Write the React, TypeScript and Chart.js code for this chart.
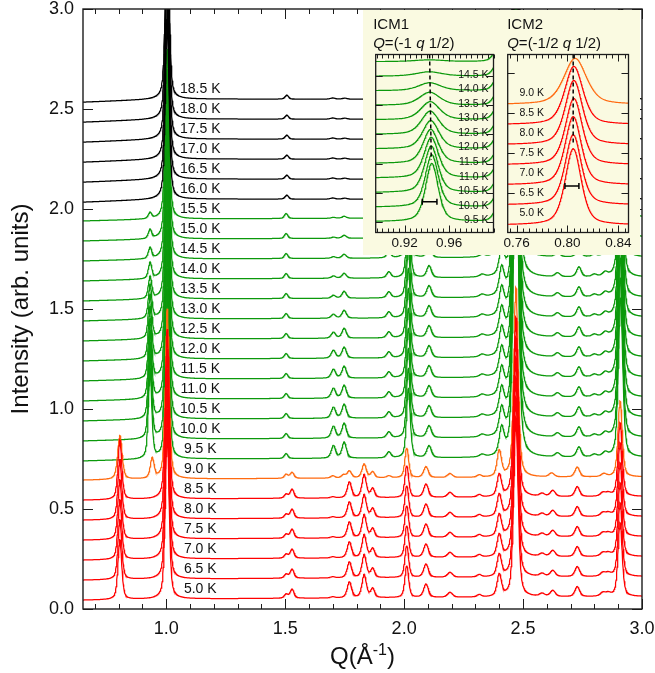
import React, { useEffect, useRef } from 'react';
import { Chart, registerables } from 'chart.js';

Chart.register(...registerables);

const FONT = "'Liberation Sans', Arial, Helvetica, sans-serif";
const AXIS = '#1c1c1c';
const TEXT = '#111111';
const INSET_BG = '#fafae1';

const COLORS: Record<string, string> = { CM: '#ff0000', MIX: '#ff6a10', ICM: '#0b990b', PM: '#000000' };
const ORDER: Record<string, number> = { PM: 0, CM: 1, MIX: 1, ICM: 2 };

// ---------------- main panel ----------------
const TEMPS = ['5.0 K', '6.5 K', '7.0 K', '7.5 K', '8.0 K', '8.5 K', '9.0 K', '9.5 K', '10.0 K', '10.5 K', '11.0 K', '11.5 K', '12.0 K', '12.5 K', '13.0 K', '13.5 K', '14.0 K', '14.5 K', '15.0 K', '15.5 K', '16.0 K', '16.5 K', '17.0 K', '17.5 K', '18.0 K', '18.5 K'];
const OFFSETS = [0.05, 0.15, 0.25, 0.35, 0.45, 0.55, 0.65, 0.75, 0.85, 0.95, 1.05, 1.15, 1.25, 1.35, 1.45, 1.55, 1.65, 1.75, 1.85, 1.95, 2.05, 2.15, 2.25, 2.35, 2.45, 2.55];
const PHASES = ['CM', 'CM', 'CM', 'CM', 'CM', 'CM', 'MIX', 'ICM', 'ICM', 'ICM', 'ICM', 'ICM', 'ICM', 'ICM', 'ICM', 'ICM', 'ICM', 'ICM', 'ICM', 'ICM', 'PM', 'PM', 'PM', 'PM', 'PM', 'PM'];

const Q_MIN = 0.65;
const Q_MAX = 3.0;
const Q_STEP = 0.0015;
const X_TICKS = [1.0, 1.5, 2.0, 2.5, 3.0];
const Y_TICKS = [0, 0.5, 1.0, 1.5, 2.0, 2.5, 3.0];
const LABEL_Q = 1.143;
const LABEL_DY = 0.047;

// commensurate phase (red, 5.0-8.5 K)
const CM_Q = [0.805, 1.004, 1.504, 1.529, 1.700, 1.770, 1.832, 1.868, 2.011, 2.092, 2.193, 2.316, 2.400, 2.470, 2.580, 2.625, 2.728, 2.835, 2.858, 2.908];
const CM_H = [0.30, 0.85, 0.02, 0.045, 0.006, 0.08, 0.115, 0.045, 0.16, 0.067, 0.025, 0.012, 0.11, 0.9, 0.015, 0.03, 0.05, 0.018, 0.015, 0.37];
const CM_W = [0.0095, 0.0095, 0.009, 0.01, 0.011, 0.011, 0.011, 0.01, 0.0095, 0.012, 0.013, 0.011, 0.011, 0.011, 0.013, 0.013, 0.012, 0.013, 0.013, 0.0105];

// mixed (orange, 9.0 K)
const MIX_Q = [0.805, 0.941, 1.004, 1.504, 1.529, 1.700, 1.745, 1.770, 1.832, 1.868, 1.936, 2.011, 2.092, 2.193, 2.316, 2.400, 2.470, 2.620, 2.728, 2.840, 2.908];
const MIX_H = [0.22, 0.10, 0.85, 0.02, 0.03, 0.012, 0.015, 0.035, 0.07, 0.03, 0.01, 0.15, 0.055, 0.02, 0.012, 0.13, 0.95, 0.02, 0.05, 0.015, 0.38];
const MIX_W = [0.011, 0.0095, 0.0095, 0.009, 0.01, 0.011, 0.011, 0.011, 0.011, 0.01, 0.011, 0.0095, 0.012, 0.013, 0.011, 0.011, 0.011, 0.013, 0.012, 0.013, 0.0105];

// incommensurate phase (green, 9.5-15.5 K), fixed peaks
const ICM_Q = [1.004, 1.504, 1.936, 2.018, 2.105, 2.328, 2.410, 2.470, 2.645, 2.735, 2.800, 2.845, 2.910];
const ICM_H = [0.85, 0.025, 0.03, 0.35, 0.06, 0.012, 0.13, 1.8, 0.02, 0.05, 0.012, 0.02, 0.8];
const ICM_W = [0.0095, 0.009, 0.011, 0.0095, 0.012, 0.013, 0.012, 0.012, 0.013, 0.012, 0.013, 0.013, 0.011];
// temperature dependent green peaks (9.5 ... 15.5 K)
const ICM1_Q = 0.932;
const ICM1_W = 0.0085;
const ICM1_H = [0.45, 0.42, 0.38, 0.34, 0.30, 0.26, 0.22, 0.17, 0.11, 0.08, 0.055, 0.045, 0.03];
const ICM_A_Q = 1.703;
const ICM_A_H = [0.063, 0.06, 0.055, 0.05, 0.045, 0.04, 0.03, 0.02, 0.015, 0.012, 0.008, 0.006, 0.005];
const ICM_B_Q = 1.748;
const ICM_B_H = [0.08, 0.075, 0.07, 0.065, 0.06, 0.055, 0.05, 0.04, 0.035, 0.025, 0.02, 0.015, 0.01];
const ICM_AB_W = 0.011;

// paramagnetic (black, 16.0-18.5 K)
const PM_Q = [1.004, 1.507, 1.700, 1.750, 2.018, 2.470, 2.910];
const PM_H = [0.9, 0.02, 0.006, 0.005, 0.3, 1.5, 0.6];
const PM_W = [0.0095, 0.009, 0.013, 0.013, 0.0095, 0.012, 0.011];

const BG_RISE: Record<string, number> = { CM: 0.006, MIX: 0.006, ICM: 0.01, PM: 0.016 };
const BG_SLOPE: Record<string, number> = { CM: 0.006, MIX: 0.005, ICM: 0.004, PM: -0.002 };

// ---------------- inset ICM1 ----------------
const ICM1_TEMPS = ['9.5 K', '10.0 K', '10.5 K', '11.0 K', '11.5 K', '12.0 K', '12.5 K', '13.0 K', '13.5 K', '14.0 K', '14.5 K', ''];
const ICM1_POS = [0.9445, 0.9445, 0.944, 0.944, 0.9435, 0.9435, 0.943, 0.943, 0.9425, 0.9425, 0.942, 0.942];
const ICM1_HGT = [4.0, 3.6, 3.2, 2.8, 2.35, 1.95, 1.6, 1.25, 0.9, 0.55, 0.3, 0.12];
const ICM1_WID = [0.0068, 0.007, 0.0073, 0.0077, 0.0082, 0.0088, 0.0095, 0.0102, 0.011, 0.012, 0.014, 0.016];
const ICM1_TAIL = [1.005, 1.2, 0.005];
const ICM1_X = [0.894, 1.0];
const ICM1_Y = [-0.74, 11.49];
const ICM1_XT = [0.92, 0.96];
const ICM1_YT = [0, 2, 4, 6, 8, 10];
const ICM1_LABEL_Q = 0.9955;
const ICM1_DASH = [[0.9425, 11.49], [0.944, 4.24]];
const ICM1_RES = [0.9359, 0.9491, 1.37];

// ---------------- inset ICM2 ----------------
const ICM2_TEMPS = ['5.0 K', '6.5 K', '7.0 K', '7.5 K', '8.0 K', '8.5 K', '9.0 K'];
const ICM2_POS = [0.8045, 0.8045, 0.8045, 0.805, 0.805, 0.805, 0.806];
const ICM2_HGT = [3.8, 3.5, 3.4, 3.3, 3.2, 2.9, 2.3];
const ICM2_WID = [0.0075, 0.0075, 0.0076, 0.0078, 0.008, 0.0085, 0.0105];
const ICM2_X = [0.753, 0.848];
const ICM2_Y = [-0.37, 8.49];
const ICM2_XT = [0.76, 0.80, 0.84];
const ICM2_YT = [1.58, 3.58, 5.58, 7.58];
const ICM2_LABEL_Q = 0.7622;
const ICM2_LABEL_DY = 0.58;
const ICM2_DASH = [[0.8045, 8.49], [0.8045, 4.03]];
const ICM2_RES = [0.798, 0.809, 1.94];

function pv(q: number, q0: number, h: number, w: number) {
  const u = (q - q0) / w;
  const u2 = u * u;
  return h * (0.5 / (1 + u2) + 0.5 * Math.exp(-0.6931 * u2));
}

function phasePeaks(i: number): number[][] {
  const ph = PHASES[i];
  if (ph === 'CM') return CM_Q.map((q, k) => [q, CM_H[k], CM_W[k]]);
  if (ph === 'MIX') return MIX_Q.map((q, k) => [q, MIX_H[k], MIX_W[k]]);
  if (ph === 'PM') return PM_Q.map((q, k) => [q, PM_H[k], PM_W[k]]);
  const j = PHASES.slice(0, i).filter((p) => p === 'ICM').length;
  const pk = ICM_Q.map((q, k) => [q, ICM_H[k], ICM_W[k]]);
  pk.push([ICM1_Q, ICM1_H[j], ICM1_W]);
  pk.push([ICM_A_Q, ICM_A_H[j], ICM_AB_W]);
  pk.push([ICM_B_Q, ICM_B_H[j], ICM_AB_W]);
  return pk;
}

function buildMainCurve(i: number) {
  const ph = PHASES[i];
  const peaks = phasePeaks(i);
  const n = Math.round((Q_MAX - Q_MIN) / Q_STEP);
  const pts: { x: number; y: number }[] = [];
  for (let k = 0; k <= n; k++) {
    const q = Q_MIN + k * Q_STEP;
    let v = OFFSETS[i];
    if (q < 1.0) v -= BG_RISE[ph] * (1 - (q - Q_MIN) / (1.0 - Q_MIN));
    else v += BG_SLOPE[ph] * (q - 1.0);
    for (const p of peaks) v += pv(q, p[0], p[1], p[2]);
    pts.push({ x: q, y: v });
  }
  return pts;
}

function buildInsetCurve(range: number[], base: number, peaks: number[][]) {
  const pts: { x: number; y: number }[] = [];
  const step = 0.0004;
  const n = Math.round((range[1] - range[0]) / step);
  for (let k = 0; k <= n; k++) {
    const q = range[0] + k * step;
    let v = base;
    for (const p of peaks) v += pv(q, p[0], p[1], p[2]);
    pts.push({ x: q, y: v });
  }
  return pts;
}

const mainDeco = {
  id: 'mainDeco',
  afterDatasetsDraw(chart: any) {
    const { ctx, chartArea: a, scales } = chart;
    const xs = scales.x;
    const ys = scales.y;
    ctx.save();
    ctx.strokeStyle = AXIS;
    ctx.lineWidth = 1;
    ctx.beginPath();
    for (let k = 7; k <= 30; k++) {
      const px = Math.round(xs.getPixelForValue(k / 10)) + 0.5;
      const len = k % 5 === 0 ? 10 : 5;
      ctx.moveTo(px, a.bottom);
      ctx.lineTo(px, a.bottom - len);
      ctx.moveTo(px, a.top);
      ctx.lineTo(px, a.top + len);
    }
    Y_TICKS.forEach((v) => {
      const py = Math.round(ys.getPixelForValue(v)) + 0.5;
      ctx.moveTo(a.left, py);
      ctx.lineTo(a.left + 10, py);
      ctx.moveTo(a.right, py);
      ctx.lineTo(a.right - 10, py);
    });
    ctx.stroke();
    ctx.lineWidth = 1.4;
    ctx.strokeRect(a.left, a.top, a.right - a.left, a.bottom - a.top);

    // curve labels
    ctx.fillStyle = TEXT;
    ctx.font = `14px ${FONT}`;
    ctx.textAlign = 'center';
    ctx.textBaseline = 'middle';
    TEMPS.forEach((t, i) => {
      ctx.fillText(t, xs.getPixelForValue(LABEL_Q), ys.getPixelForValue(OFFSETS[i] + LABEL_DY));
    });

    // y title
    ctx.save();
    ctx.translate(21, (a.top + a.bottom) / 2);
    ctx.rotate(-Math.PI / 2);
    ctx.font = `24px ${FONT}`;
    ctx.textAlign = 'center';
    ctx.textBaseline = 'middle';
    ctx.fillText('Intensity (arb. units)', 0, 0);
    ctx.restore();

    // x title Q(Å^-1)
    const big = `24px ${FONT}`;
    const small = `16px ${FONT}`;
    ctx.textAlign = 'left';
    ctx.textBaseline = 'alphabetic';
    ctx.font = big;
    const w1 = ctx.measureText('Q(Å').width;
    const w3 = ctx.measureText(')').width;
    ctx.font = small;
    const w2 = ctx.measureText('-1').width;
    let x0 = (a.left + a.right) / 2 - (w1 + w2 + w3) / 2;
    const yb = 664;
    ctx.font = big;
    ctx.fillText('Q(Å', x0, yb);
    x0 += w1;
    ctx.font = small;
    ctx.fillText('-1', x0, yb - 9);
    x0 += w2;
    ctx.font = big;
    ctx.fillText(')', x0, yb);
    ctx.restore();
  },
};

function makeInsetPlugin(cfg: any) {
  return {
    id: 'insetDeco',
    afterDatasetsDraw(chart: any) {
      const { ctx, chartArea: a, scales } = chart;
      const xs = scales.x;
      const ys = scales.y;
      ctx.save();
      ctx.strokeStyle = AXIS;
      ctx.lineWidth = 1;
      ctx.beginPath();
      const k0 = Math.ceil(cfg.xr[0] / 0.005 - 1e-6);
      const k1 = Math.floor(cfg.xr[1] / 0.005 + 1e-6);
      for (let k = k0; k <= k1; k++) {
        const v = k * 0.005;
        const px = Math.round(xs.getPixelForValue(v)) + 0.5;
        const major = cfg.xt.some((t: number) => Math.abs(t - v) < 1e-6);
        const len = major ? 7 : 4;
        ctx.moveTo(px, a.bottom);
        ctx.lineTo(px, a.bottom - len);
        ctx.moveTo(px, a.top);
        ctx.lineTo(px, a.top + len);
      }
      cfg.yt.forEach((v: number) => {
        const py = Math.round(ys.getPixelForValue(v)) + 0.5;
        ctx.moveTo(a.left, py);
        ctx.lineTo(a.left + 7, py);
        ctx.moveTo(a.right, py);
        ctx.lineTo(a.right - 7, py);
      });
      ctx.stroke();
      ctx.lineWidth = 1.3;
      ctx.strokeRect(a.left, a.top, a.right - a.left, a.bottom - a.top);

      // resolution bar
      const rx0 = xs.getPixelForValue(cfg.res[0]);
      const rx1 = xs.getPixelForValue(cfg.res[1]);
      const ry = ys.getPixelForValue(cfg.res[2]);
      ctx.strokeStyle = '#000';
      ctx.lineWidth = 1.5;
      ctx.beginPath();
      ctx.moveTo(rx0, ry);
      ctx.lineTo(rx1, ry);
      ctx.moveTo(rx0, ry - 3);
      ctx.lineTo(rx0, ry + 3);
      ctx.moveTo(rx1, ry - 3);
      ctx.lineTo(rx1, ry + 3);
      ctx.stroke();

      // curve labels
      ctx.fillStyle = TEXT;
      ctx.font = `10.5px ${FONT}`;
      ctx.textAlign = cfg.labelAlign;
      ctx.textBaseline = 'middle';
      cfg.temps.forEach((t: string, i: number) => {
        if (!t) return;
        ctx.fillText(t, xs.getPixelForValue(cfg.labelQ), ys.getPixelForValue(i + cfg.labelDy));
      });

      // header
      const hx = a.left + cfg.headDx;
      ctx.textAlign = 'left';
      ctx.textBaseline = 'middle';
      ctx.font = `15px ${FONT}`;
      ctx.fillText(cfg.title, hx, 15);
      let cx = hx;
      cfg.sub.forEach((part: any) => {
        ctx.font = `${part[1] ? 'italic ' : ''}15px ${FONT}`;
        ctx.fillText(part[0], cx, 34);
        cx += ctx.measureText(part[0]).width;
      });
      ctx.restore();
    },
  };
}

function insetConfig(cfg: any) {
  const datasets: any[] = cfg.curves.map((c: any) => ({
    data: c.data,
    borderColor: c.color,
    borderWidth: 1.2,
    pointRadius: 0,
    tension: 0,
    order: 1,
  }));
  datasets.unshift({
    data: cfg.dash.map((p: number[]) => ({ x: p[0], y: p[1] })),
    borderColor: '#000',
    borderWidth: 1.5,
    borderDash: [4, 3],
    pointRadius: 0,
    order: 0,
  });
  return {
    type: 'line',
    data: { datasets },
    options: {
      animation: false,
      responsive: false,
      events: [],
      parsing: false,
      layout: { padding: cfg.padding },
      plugins: { legend: { display: false }, tooltip: { enabled: false } },
      scales: {
        x: {
          type: 'linear',
          min: cfg.xr[0],
          max: cfg.xr[1],
          grid: { display: false, drawTicks: false },
          border: { display: false },
          afterBuildTicks: (s: any) => {
            s.ticks = cfg.xt.map((v: number) => ({ value: v }));
          },
          afterFit: (s: any) => {
            s.height = cfg.xh;
            s.paddingLeft = 0;
            s.paddingRight = 0;
          },
          ticks: {
            padding: 3,
            autoSkip: false,
            maxRotation: 0,
            color: TEXT,
            font: { family: FONT, size: 13.5 },
            callback: (v: any) => Number(v).toFixed(2),
          },
        },
        y: { type: 'linear', display: false, min: cfg.yr[0], max: cfg.yr[1] },
      },
    },
    plugins: [makeInsetPlugin(cfg)],
  };
}

export default function App() {
  const mainRef = useRef<HTMLCanvasElement>(null);
  const in1Ref = useRef<HTMLCanvasElement>(null);
  const in2Ref = useRef<HTMLCanvasElement>(null);

  useEffect(() => {
    document.body.style.margin = '0';
    const datasets = TEMPS.map((t, i) => ({
      label: t,
      data: buildMainCurve(i),
      borderColor: COLORS[PHASES[i]],
      borderWidth: 1.25,
      pointRadius: 0,
      tension: 0,
      order: ORDER[PHASES[i]],
    }));
    const main = new Chart(mainRef.current as HTMLCanvasElement, {
      type: 'line',
      data: { datasets },
      options: {
        animation: false,
        responsive: false,
        events: [],
        parsing: false,
        normalized: true,
        layout: { padding: { left: 0, top: 9, right: 13, bottom: 0 } },
        plugins: { legend: { display: false }, tooltip: { enabled: false } },
        scales: {
          x: {
            type: 'linear',
            min: Q_MIN,
            max: Q_MAX,
            grid: { display: false, drawTicks: false },
            border: { display: false },
            afterBuildTicks: (s: any) => {
              s.ticks = X_TICKS.map((v) => ({ value: v }));
            },
            afterFit: (s: any) => {
              s.height = 64;
              s.paddingLeft = 0;
              s.paddingRight = 0;
            },
            ticks: {
              padding: 9,
              autoSkip: false,
              maxRotation: 0,
              color: TEXT,
              font: { family: FONT, size: 18 },
              callback: (v: any) => Number(v).toFixed(1),
            },
          },
          y: {
            type: 'linear',
            min: 0,
            max: 3.0,
            grid: { display: false, drawTicks: false },
            border: { display: false },
            afterBuildTicks: (s: any) => {
              s.ticks = Y_TICKS.map((v) => ({ value: v }));
            },
            afterFit: (s: any) => {
              s.width = 83;
              s.paddingTop = 0;
              s.paddingBottom = 0;
            },
            ticks: {
              padding: 9,
              color: TEXT,
              font: { family: FONT, size: 18 },
              callback: (v: any) => Number(v).toFixed(1),
            },
          },
        },
      },
      plugins: [mainDeco],
    } as any);

    const icm1Curves = ICM1_TEMPS.map((t, i) => ({
      color: COLORS.ICM,
      data: buildInsetCurve(ICM1_X, i, [
        [ICM1_POS[i], ICM1_HGT[i], ICM1_WID[i]],
        [ICM1_TAIL[0], ICM1_TAIL[1], ICM1_TAIL[2]],
      ]),
    }));
    const in1 = new Chart(in1Ref.current as HTMLCanvasElement, insetConfig({
      curves: icm1Curves,
      temps: ICM1_TEMPS,
      xr: ICM1_X,
      yr: ICM1_Y,
      xt: ICM1_XT,
      yt: ICM1_YT,
      dash: ICM1_DASH,
      res: ICM1_RES,
      labelQ: ICM1_LABEL_Q,
      labelDy: 0.1,
      labelAlign: 'right',
      padding: { left: 12.7, right: 9.5, top: 44.5, bottom: 0 },
      xh: 22.5,
      headDx: -2.5,
      title: 'ICM1',
      sub: [['Q', true], ['=(-1 ', false], ['q', true], [' 1/2)', false]],
    }) as any);

    const icm2Curves = ICM2_TEMPS.map((t, j) => ({
      color: j === ICM2_TEMPS.length - 1 ? COLORS.MIX : COLORS.CM,
      data: buildInsetCurve(ICM2_X, j, [[ICM2_POS[j], ICM2_HGT[j], ICM2_WID[j]]]),
    }));
    const in2 = new Chart(in2Ref.current as HTMLCanvasElement, insetConfig({
      curves: icm2Curves,
      temps: ICM2_TEMPS,
      xr: ICM2_X,
      yr: ICM2_Y,
      xt: ICM2_XT,
      yt: ICM2_YT,
      dash: ICM2_DASH,
      res: ICM2_RES,
      labelQ: ICM2_LABEL_Q,
      labelDy: ICM2_LABEL_DY,
      labelAlign: 'left',
      padding: { left: 4.7, right: 11.5, top: 44.5, bottom: 0 },
      xh: 22.5,
      headDx: -0.5,
      title: 'ICM2',
      sub: [['Q', true], ['=(-1/2 ', false], ['q', true], [' 1/2)', false]],
    }) as any);

    return () => {
      main.destroy();
      in1.destroy();
      in2.destroy();
    };
  }, []);

  return (
    <div style={{ position: 'relative', width: 655, height: 673, background: '#fff' }}>
      <canvas ref={mainRef} width={655} height={673} style={{ position: 'absolute', left: 0, top: 0 }} />
      <div style={{ position: 'absolute', left: 363, top: 10, width: 277, height: 245, background: INSET_BG }}>
        <canvas ref={in1Ref} width={140} height={245} style={{ position: 'absolute', left: 0, top: 0 }} />
        <canvas ref={in2Ref} width={137} height={245} style={{ position: 'absolute', left: 140, top: 0 }} />
      </div>
    </div>
  );
}
